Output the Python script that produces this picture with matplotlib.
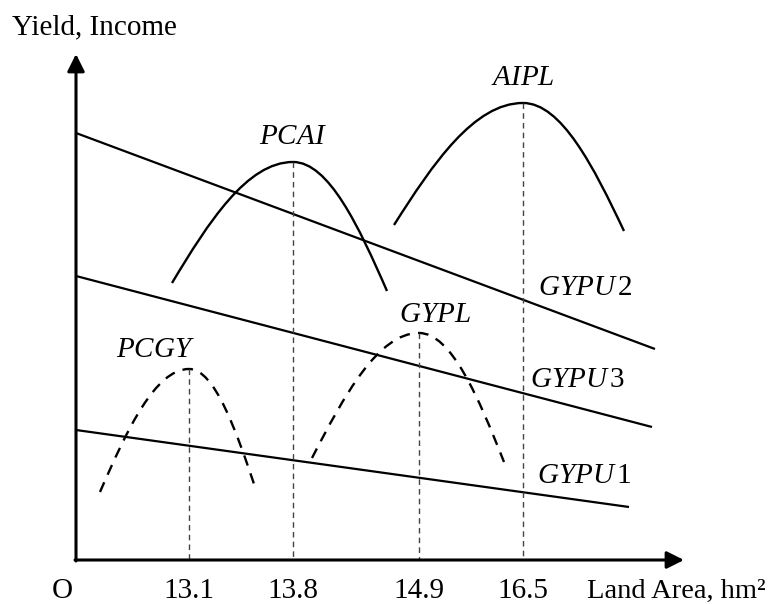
import numpy as np
import matplotlib
matplotlib.use("Agg")
from matplotlib import pyplot as plt
from matplotlib.path import Path
from matplotlib.patches import PathPatch

plt.rcParams["font.family"] = ["Liberation Serif", "DejaVu Serif"]
plt.rcParams["mathtext.fontset"] = "custom"
plt.rcParams["mathtext.rm"] = "Liberation Serif"
plt.rcParams["mathtext.it"] = "Liberation Serif:italic"

# Schematic values (canvas units, y grows downwards)
origin = (76, 560)
x_end = 684
y_end = 54

tick_labels = ["13.1", "13.8", "14.9", "16.5"]
tick_x = [189, 293, 419, 523]

# Straight lines GYPU1..3: start and end points
line_names = ["GYPU1", "GYPU2", "GYPU3"]
line_x0 = [76, 76, 76]
line_y0 = [430, 133, 276]
line_x1 = [629, 655, 652]
line_y1 = [507, 349, 427]

# Bell curves: left end, peak, right end
curve_names = ["PCGY", "PCAI", "GYPL", "AIPL"]
curve_dashed = [True, False, True, False]
left_x = [100, 172, 312, 394]
left_y = [492, 283, 458, 225]
peak_x = [189, 293, 419, 523]
peak_y = [369, 162, 333, 103]
right_x = [256, 387, 504, 624]
right_y = [490, 291, 462, 231]

fig = plt.figure(figsize=(7.68, 6.04), dpi=100)
ax = fig.add_axes([0, 0, 1, 1])
ax.set_xlim(0, 768)
ax.set_ylim(604, 0)
ax.axis("off")

# Axes with arrows
arrow = dict(arrowstyle="-|>", lw=2.2, color="black", mutation_scale=26,
             shrinkA=0, shrinkB=0)
ax.annotate("", xy=(x_end, origin[1]), xytext=(origin[0] - 1, origin[1]), arrowprops=arrow)
ax.annotate("", xy=(origin[0], y_end), xytext=(origin[0], origin[1] + 1), arrowprops=arrow)

# Straight lines
for i in range(len(line_names)):
    ax.plot([line_x0[i], line_x1[i]], [line_y0[i], line_y1[i]], color="black", lw=1.6,
            solid_capstyle="butt")


def bell(lx, ly, px, py, rx, ry):
    # two cubic Bezier halves with horizontal tangent at the peak
    wl, wr = px - lx, rx - px
    verts = [
        (lx, ly),
        (lx + 0.3 * wl, ly + 0.5 * (py - ly)),
        (px - 0.38 * wl, py),
        (px, py),
        (px + 0.38 * wr, py),
        (rx - 0.3 * wr, ry + 0.5 * (py - ry)),
        (rx, ry),
    ]
    codes = [Path.MOVETO] + [Path.CURVE4] * 6
    return Path(verts, codes)


for i in range(len(curve_names)):
    ls = (0, (4.5, 3.5)) if curve_dashed[i] else "-"
    patch = PathPatch(bell(left_x[i], left_y[i], peak_x[i], peak_y[i], right_x[i], right_y[i]),
                      facecolor="none", edgecolor="black", lw=1.7, linestyle=ls)
    ax.add_patch(patch)
    # dashed drop line from the peak to the x axis
    ax.plot([peak_x[i], peak_x[i]], [peak_y[i], origin[1]], color="#444444", lw=1.0,
            linestyle=(0, (4, 3)))

fs = 21
ax.text(12, 27, "Yield, Income", fontsize=fs, ha="left", va="center")
ax.text(62, 591, "O", fontsize=fs, ha="center", va="center")
for x, lab in zip(tick_x, tick_labels):
    ax.text(x, 591, lab, fontsize=fs, ha="center", va="center")
ax.text(766, 591, "Land Area, hm²", fontsize=20.5, ha="right", va="center")

ax.text(293, 137, "$PCAI$", fontsize=fs, ha="center", va="center")
ax.text(523, 78, "$AIPL$", fontsize=fs, ha="center", va="center")
ax.text(156, 350, "$PCGY$", fontsize=fs, ha="center", va="center")
ax.text(435, 315, "$GYPL$", fontsize=fs, ha="center", va="center")
ax.text(538, 288, r"$GYPU\,$2", fontsize=fs, ha="left", va="center")
ax.text(530, 380, r"$GYPU\,$3", fontsize=fs, ha="left", va="center")
ax.text(537, 476, r"$GYPU\,$1", fontsize=fs, ha="left", va="center")

fig.savefig("out.png", dpi=100)
